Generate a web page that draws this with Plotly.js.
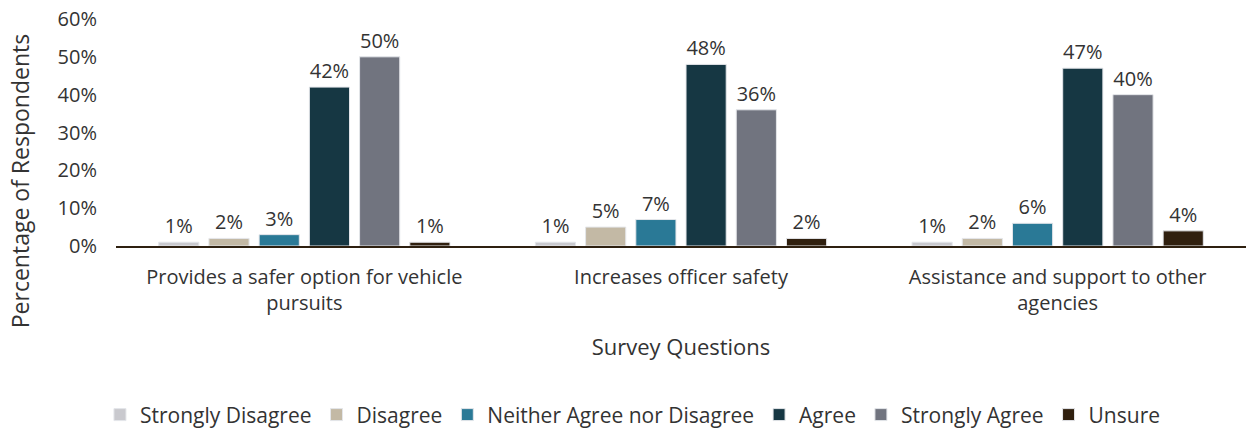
<!DOCTYPE html>
<html><head><meta charset="utf-8">
<script src="https://cdn.plot.ly/plotly-3.0.1.min.js"></script>
<style>body{margin:0;background:#fff}#chart{width:1246px;height:430px}</style>
</head><body><div id="chart"></div>
<script>
const categories = ["Provides a safer option for vehicle<br>pursuits", "Increases officer safety", "Assistance and support to other<br>agencies"];
const seriesNames = ["Strongly Disagree", "Disagree", "Neither Agree nor Disagree", "Agree", "Strongly Agree", "Unsure"];
const stronglyDisagree = [1, 1, 1];
const disagree = [2, 5, 2];
const neither = [3, 7, 6];
const agree = [42, 48, 47];
const stronglyAgree = [50, 36, 40];
const unsure = [1, 2, 4];
const yTicks = [0, 10, 20, 30, 40, 50, 60];
const colors = ["#c9c9ce", "#c3b9a5", "#2a7996", "#163743", "#71747f", "#30200f"];

const values = [stronglyDisagree, disagree, neither, agree, stronglyAgree, unsure];
const font = "Open Sans, Segoe UI, sans-serif";
const txt = "#333";
const traces = values.map((v, i) => ({
  type: "bar", x: categories, y: v, name: seriesNames[i],
  marker: {color: colors[i], line: {color: "#e4e6ea", width: 1}},
  text: v.map(d => d + "%"), textposition: "outside", cliponaxis: false,
  textfont: {family: font, size: 20, color: txt},
  hoverinfo: "none"
}));
const layout = {
  width: 1246, height: 430,
  margin: {l: 116, r: 0, t: 19, b: 184},
  barmode: "group", bargap: 0.2, bargroupgap: 0.2,
  paper_bgcolor: "#fff", plot_bgcolor: "#fff",
  font: {family: font, size: 20, color: txt},
  showlegend: true,
  legend: {orientation: "h", x: 0.508, xref: "container", xanchor: "center", y: 0.035, yref: "container", yanchor: "middle",
    font: {family: font, size: 21, color: txt}, itemwidth: 30, traceorder: "normal"},
  xaxis: {showline: true, linecolor: "#2e2010", linewidth: 2, ticks: "", showgrid: false, automargin: false,
    ticklabelstandoff: 12,
    tickfont: {family: font, size: 20, color: txt},
    title: {text: "Survey Questions", font: {family: font, size: 22, color: txt}, standoff: 25}},
  yaxis: {range: [0, 60], tickvals: yTicks, ticktext: yTicks.map(t => t + "%"), showgrid: false, automargin: false,
    zeroline: false, showline: false, ticks: "", ticklen: 0, ticklabelstandoff: 18,
    tickfont: {family: font, size: 20, color: txt}},
  annotations: [{text: "Percentage of Respondents", textangle: -90, xref: "paper", yref: "paper",
    x: -0.085, y: 0.285, xanchor: "center", yanchor: "middle", showarrow: false,
    font: {family: font, size: 23, color: txt}}]
};
Plotly.newPlot("chart", traces, layout, {displayModeBar: false, staticPlot: true});
</script></body></html>
